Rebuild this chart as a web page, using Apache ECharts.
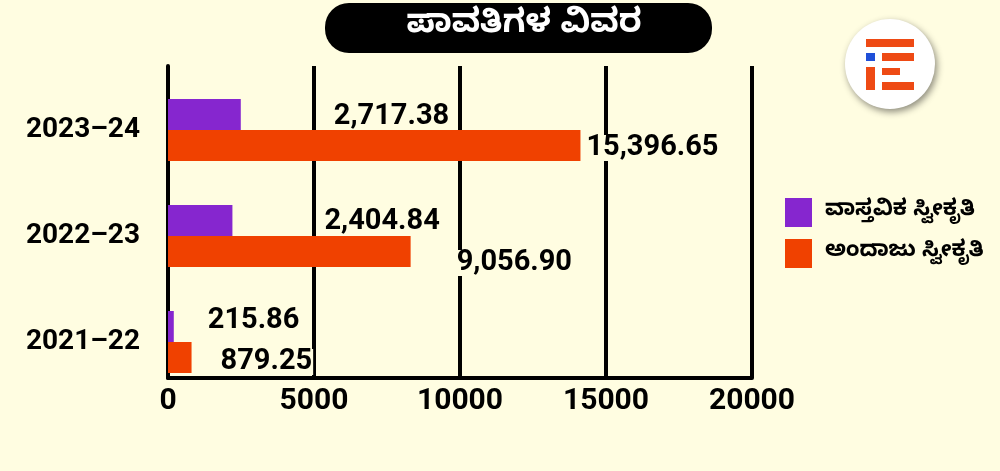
<!DOCTYPE html>
<html>
<head>
<meta charset="utf-8">
<script src="https://cdn.jsdelivr.net/npm/echarts@6/dist/echarts.min.js"></script>
<style>
html,body{margin:0;padding:0;background:#FFFDE1;}
#c{width:1000px;height:471px;}
</style>
</head>
<body>
<div id="c"></div>
<script>
// ---- data ----
const categories = ['2021–22', '2022–23', '2023–24'];
const actualReceipts = [215.86, 2404.84, 2717.38];
const estimatedReceipts = [879.25, 9056.90, 15396.65];
const seriesNames = ['ವಾಸ್ತವಿಕ ಸ್ವೀಕೃತಿ', 'ಅಂದಾಜು ಸ್ವೀಕೃತಿ'];
const xTickValues = [0, 5000, 10000, 15000, 20000];
const titleText = 'ಪಾವತಿಗಳ ವಿವರ';

// ---- style ----
const BG = '#FFFDE1';
const PURPLE = '#8626CF';
const ORANGE = '#F04100';
const numFont = 'Roboto, "DejaVu Sans", sans-serif';
const knFont = '"Noto Sans Kannada", "Noto Sans", "DejaVu Sans", sans-serif';
const barScaleMax = 21800;
const labelNudgeActual = [[28, -5.5], [86, 1], [87, 2.5]];
const labelNudgeEstimate = [[23, 4.5], [40, 11.5], [0, 2.5]];

const fmt = v => v.toLocaleString('en-US', {minimumFractionDigits: 2, maximumFractionDigits: 2});
const build = (vals, nudges) => vals.map((v, i) => ({value: v, label: {offset: nudges[i]}}));

const labelStyle = {
  show: true, position: 'right', distance: 5,
  formatter: p => fmt(p.value),
  fontFamily: numFont, fontWeight: 'bold', fontSize: 29, color: '#000',
  backgroundColor: BG, lineHeight: 26, padding: [0, 1]
};

const chart = echarts.init(document.getElementById('c'));
chart.setOption({
  backgroundColor: BG,
  animation: false,
  graphic: [
    {type: 'rect', shape: {x: 325, y: 3, width: 387, height: 50, r: 24}, style: {fill: '#000'}, z: 10},
    {type: 'text', x: 524, y: 29, z: 11,
      style: {text: titleText, fill: '#fff', font: 'bold 33px ' + knFont,
        textAlign: 'center', textVerticalAlign: 'middle', align: 'center', verticalAlign: 'middle'}},
    {type: 'circle', shape: {cx: 890, cy: 64, r: 45}, z: 10,
      style: {fill: '#fff', shadowBlur: 7, shadowColor: 'rgba(0,0,0,0.45)', shadowOffsetX: 2, shadowOffsetY: 3}},
    {type: 'rect', shape: {x: 866, y: 39, width: 48, height: 8}, style: {fill: '#EE4A14'}, z: 11},
    {type: 'rect', shape: {x: 866, y: 53, width: 9, height: 8}, style: {fill: '#1F4FD8'}, z: 11},
    {type: 'rect', shape: {x: 882, y: 53, width: 32, height: 8}, style: {fill: '#EE4A14'}, z: 11},
    {type: 'rect', shape: {x: 866, y: 67, width: 9, height: 23}, style: {fill: '#EE4A14'}, z: 11},
    {type: 'rect', shape: {x: 882, y: 68, width: 18, height: 7}, style: {fill: '#EE4A14'}, z: 11},
    {type: 'rect', shape: {x: 882, y: 82, width: 32, height: 8}, style: {fill: '#EE4A14'}, z: 11}
  ],
  legend: {
    orient: 'vertical', left: 780, top: 193,
    itemWidth: 27, itemHeight: 29, itemGap: 12, icon: 'rect',
    data: seriesNames,
    textStyle: {fontFamily: knFont, fontSize: 22, fontWeight: 'bold', color: '#000', padding: [0, 0, 0, 8]}
  },
  grid: [
    {left: 168, right: 248, top: 77, bottom: 76},
    {left: 168, right: 248, top: 66, bottom: 93}
  ],
  xAxis: [
    {gridIndex: 0, type: 'value', min: 0, max: barScaleMax, show: false},
    {gridIndex: 1, type: 'value',
      min: xTickValues[0], max: xTickValues[xTickValues.length - 1],
      interval: xTickValues[1] - xTickValues[0],
      axisLine: {show: true, onZero: false, lineStyle: {color: '#000', width: 4}},
      axisTick: {show: false},
      splitLine: {show: true, lineStyle: {color: '#000', width: 4}},
      axisLabel: {margin: 8, formatter: v => String(v), fontFamily: numFont, fontWeight: 'bold', fontSize: 30, color: '#000'}}
  ],
  yAxis: [
    {gridIndex: 0, type: 'category', data: categories,
      axisLine: {show: false}, axisTick: {show: false},
      axisLabel: {margin: 28, fontFamily: numFont, fontWeight: 'bold', fontSize: 28, color: '#000', padding: [14, 0, 0, 0]}},
    {gridIndex: 1, type: 'value', min: 0, max: 1,
      axisLine: {show: true, lineStyle: {color: '#000', width: 4}},
      axisTick: {show: false}, axisLabel: {show: false}, splitLine: {show: false}}
  ],
  series: [
    {name: seriesNames[0], type: 'bar', xAxisIndex: 0, yAxisIndex: 0,
      data: build(actualReceipts, labelNudgeActual),
      barWidth: 31, barGap: '0%', itemStyle: {color: PURPLE}, label: labelStyle},
    {name: seriesNames[1], type: 'bar', xAxisIndex: 0, yAxisIndex: 0,
      data: build(estimatedReceipts, labelNudgeEstimate),
      barWidth: 31, barGap: '0%', itemStyle: {color: ORANGE}, label: labelStyle}
  ]
});
</script>
</body>
</html>
